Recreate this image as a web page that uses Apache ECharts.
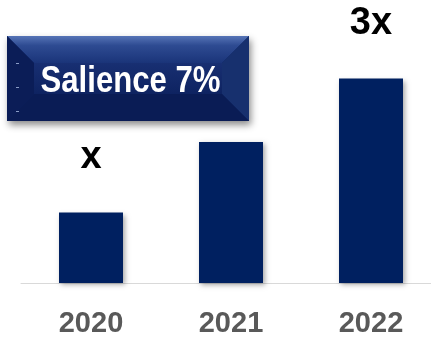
<!DOCTYPE html>
<html>
<head>
<meta charset="utf-8">
<title>Salience growth 2020–2022</title>
<script src="https://cdn.jsdelivr.net/npm/echarts@6/dist/echarts.min.js"></script>
<style>
  html, body { margin: 0; padding: 0; background: #ffffff; }
  #chart { width: 431px; height: 338px; }
</style>
</head>
<body>
<div id="chart"></div>
<script>
// Years on the category axis
var years = ['2020', '2021', '2022'];
// Relative size of each year (2020 = 1)
var growth = [1, 2, 2.9];
// Multiplier captions shown above selected bars ('' = no caption)
var captions = ['x', '', '3x'];
// Headline callout text
var calloutText = 'Salience 7%';

var chart = echarts.init(document.getElementById('chart'), null, { renderer: 'canvas' });

// Bevelled callout panel, built from four trapezoid bands around a centre face
var W = 242, H = 85, B = 27;
var callout = {
  type: 'group',
  left: 7,
  top: 36,
  children: [
    {
      type: 'rect',
      shape: { x: 0, y: 0, width: W, height: H },
      style: {
        fill: '#0d2262',
        shadowBlur: 7,
        shadowOffsetX: 2,
        shadowOffsetY: 4,
        shadowColor: 'rgba(0,0,0,0.45)'
      }
    },
    {
      type: 'polygon',
      shape: { points: [[0, 0], [W, 0], [W - B, B], [B, B]] },
      style: {
        fill: new echarts.graphic.LinearGradient(0, 0, 0, 1, [
          { offset: 0, color: '#5674b6' },
          { offset: 0.35, color: '#2e4b92' },
          { offset: 1, color: '#1a3479' }
        ])
      }
    },
    {
      type: 'polygon',
      shape: { points: [[0, 0], [B, B], [B, H - B], [0, H]] },
      style: { fill: '#0b1d57' }
    },
    {
      type: 'polygon',
      shape: { points: [[W, 0], [W, H], [W - B, H - B], [W - B, B]] },
      style: { fill: '#17306e' }
    },
    {
      type: 'polygon',
      shape: { points: [[0, H], [B, H - B], [W - B, H - B], [W, H]] },
      style: { fill: '#0a1c55' }
    },
    {
      type: 'rect',
      shape: { x: B, y: B, width: W - 2 * B, height: H - 2 * B },
      style: {
        fill: new echarts.graphic.LinearGradient(0, 0, 0, 1, [
          { offset: 0, color: '#182f72' },
          { offset: 1, color: '#0e2361' }
        ])
      }
    },
    // small tick dashes on the left face
    { type: 'line', shape: { x1: 9, y1: 27.5, x2: 12, y2: 27.5 }, style: { stroke: '#8a9cc6', lineWidth: 1 } },
    { type: 'line', shape: { x1: 9, y1: 51.5, x2: 12, y2: 51.5 }, style: { stroke: '#8a9cc6', lineWidth: 1 } },
    { type: 'line', shape: { x1: 9, y1: 75.5, x2: 12, y2: 75.5 }, style: { stroke: '#8a9cc6', lineWidth: 1 } },
    {
      type: 'text',
      x: 123.5,
      y: 46,
      scaleX: 0.865,
      style: {
        text: calloutText,
        fill: '#ffffff',
        font: 'bold 36px "Liberation Sans", Arial, sans-serif',
        align: 'center',
        verticalAlign: 'middle'
      }
    }
  ]
};

var option = {
  animation: false,
  backgroundColor: '#ffffff',
  // the last category band runs past the right edge, so the plot is not clamped to the canvas
  grid: { left: 21, width: 420, top: 1, bottom: 55, containLabel: false, outerBoundsMode: 'none' },
  xAxis: {
    type: 'category',
    data: years,
    axisLine: { show: true, lineStyle: { color: '#d9d9d9', width: 1 } },
    axisTick: { show: false },
    axisLabel: {
      color: '#595959',
      fontWeight: 'bold',
      fontSize: 29,
      fontFamily: '"Liberation Sans", Arial, sans-serif',
      margin: 26
    }
  },
  yAxis: {
    type: 'value',
    min: 0,
    max: 4,
    show: false,
    splitLine: { show: false }
  },
  series: [
    {
      type: 'bar',
      data: growth,
      barWidth: 64,
      itemStyle: {
        color: '#002060',
        shadowBlur: 5,
        shadowOffsetX: 2,
        shadowOffsetY: 2,
        shadowColor: 'rgba(0,0,0,0.35)'
      },
      label: {
        show: true,
        position: 'top',
        distance: 36,
        color: '#000000',
        fontWeight: 'bold',
        fontSize: 38,
        fontFamily: '"Liberation Sans", Arial, sans-serif',
        formatter: function (p) { return captions[p.dataIndex]; }
      }
    }
  ],
  graphic: [callout]
};

chart.setOption(option);
</script>
</body>
</html>
